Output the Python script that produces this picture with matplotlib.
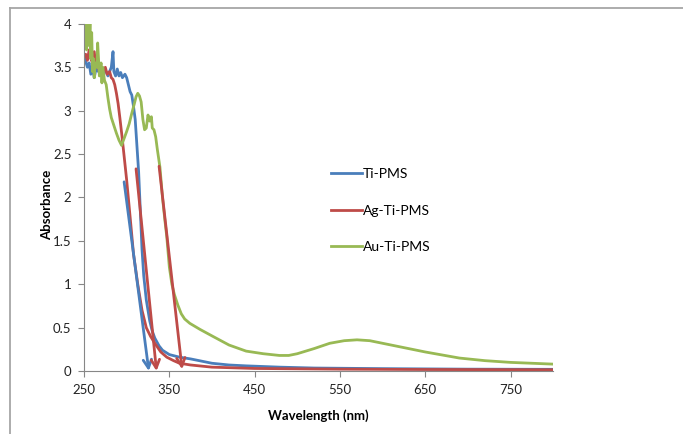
import matplotlib
matplotlib.use("Agg")
import matplotlib.pyplot as plt
from matplotlib.lines import Line2D

plt.rcParams['font.family'] = ['Lato', 'DejaVu Sans']

# ── data ────────────────────────────────────────────────────────────────────
ti_wl = [251, 254, 256, 258, 260, 262, 264, 267, 270, 272, 275, 278, 280, 282,
         284, 285, 287, 289, 291, 293, 295, 298, 300, 302, 304, 306, 308, 310,
         312, 314, 316, 318, 320, 323, 327, 330, 333, 338, 342, 350, 362, 375,
         385, 400, 420, 440, 480, 520, 600, 700, 800]
ti_abs = [3.6, 3.5, 3.55, 3.42, 3.5, 3.38, 3.48, 3.45, 3.5, 3.42, 3.47, 3.4, 3.45, 3.5,
          3.68, 3.45, 3.4, 3.48, 3.4, 3.44, 3.38, 3.42, 3.38, 3.3, 3.22, 3.18, 3.05, 2.9,
          2.6, 2.3, 1.85, 1.4, 1.1, 0.82, 0.58, 0.46, 0.38, 0.29, 0.24, 0.19, 0.16, 0.14,
          0.12, 0.09, 0.07, 0.06, 0.045, 0.035, 0.028, 0.022, 0.02]

ag_wl = [250, 252, 254, 256, 258, 260, 262, 264, 266, 268, 270, 272, 275, 277,
         280, 282, 284, 286, 288, 290, 292, 294, 296, 300, 304, 308, 313, 318,
         323, 328, 333, 340, 347, 355, 362, 375, 385, 400, 450, 550, 650, 800]
ag_abs = [3.62, 3.65, 3.58, 3.7, 3.6, 3.55, 3.68, 3.5, 3.55, 3.45, 3.5, 3.45, 3.5, 3.42,
          3.45, 3.38, 3.36, 3.3, 3.2, 3.08, 2.92, 2.75, 2.57, 2.2, 1.78, 1.35, 1.0, 0.7,
          0.5, 0.4, 0.32, 0.22, 0.16, 0.12, 0.09, 0.07, 0.06, 0.045, 0.03, 0.022, 0.018, 0.015]

au_wl = [250, 252, 253, 254, 256, 257, 258, 259, 260, 261, 262, 263, 265, 266,
         267, 268, 270, 271, 272, 274, 276, 278, 280, 282, 285, 288, 291, 294,
         297, 300, 303, 306, 309, 311, 313, 315, 317, 319, 321, 323, 325, 327,
         329, 330, 332, 334, 336, 339, 342, 345, 347, 350, 353, 356, 360, 364,
         368, 374, 386, 401, 420, 440, 460, 479, 490, 500, 520, 538, 555, 570,
         585, 600, 625, 650, 690, 720, 750, 800]
au_abs = [4.0, 4.0, 3.7, 4.0, 3.75, 4.0, 3.6, 3.9, 3.45, 3.6, 3.38, 3.55, 3.5, 3.78,
          3.6, 3.4, 3.55, 3.32, 3.5, 3.35, 3.3, 3.15, 3.02, 2.92, 2.83, 2.74, 2.66, 2.6,
          2.68, 2.76, 2.85, 2.97, 3.08, 3.16, 3.2, 3.17, 3.1, 2.9, 2.78, 2.8, 2.95, 2.88,
          2.93, 2.8, 2.78, 2.7, 2.55, 2.35, 2.0, 1.72, 1.55, 1.2, 1.0, 0.88, 0.76, 0.66,
          0.6, 0.55, 0.48, 0.4, 0.3, 0.23, 0.2, 0.18, 0.18, 0.2, 0.26, 0.32, 0.35, 0.36,
          0.35, 0.32, 0.27, 0.22, 0.15, 0.12, 0.1, 0.08]

# band-edge arrows: (start wl, start abs) -> (end wl, end abs)
arrow_starts_wl = [297, 311, 338]
arrow_starts_abs = [2.18, 2.33, 2.36]
arrow_ends_wl = [326, 335, 365]
arrow_ends_abs = [0.0, 0.0, 0.02]

x_ticks = [250, 350, 450, 550, 650, 750]
y_ticks = [0, 0.5, 1, 1.5, 2, 2.5, 3, 3.5, 4]

BLUE = "#4a7ebb"
RED = "#be4b48"
GREEN = "#98b954"
AXIS_GREY = "#878787"
arrow_colors = [BLUE, RED, RED]

fig = plt.figure(figsize=(6.83, 4.34), dpi=100)
ax = fig.add_axes([0.123, 0.145, 0.687, 0.80])

ax.plot(ti_wl, ti_abs, color=BLUE, lw=2, label="Ti-PMS")
ax.plot(ag_wl, ag_abs, color=RED, lw=2, label="Ag-Ti-PMS")
ax.plot(au_wl, au_abs, color=GREEN, lw=2, label="Au-Ti-PMS")

for x0, y0, x1, y1, c in zip(arrow_starts_wl, arrow_starts_abs,
                             arrow_ends_wl, arrow_ends_abs, arrow_colors):
    ax.annotate("", xy=(x1, y1), xytext=(x0, y0),
                arrowprops=dict(arrowstyle="->,head_length=0.6,head_width=0.3",
                                color=c, lw=2, shrinkA=0, shrinkB=0))

ax.set_xlim(250, 800)
ax.set_ylim(0, 4)
ax.set_xticks(x_ticks)
ax.set_yticks(y_ticks)
ax.set_yticklabels([f"{v:g}" for v in y_ticks])

for s in ("top", "right"):
    ax.spines[s].set_visible(False)
for s in ("left", "bottom"):
    ax.spines[s].set_color(AXIS_GREY)
    ax.spines[s].set_linewidth(0.8)
ax.tick_params(direction="out", length=4, width=0.8, color=AXIS_GREY,
               labelsize=9.5, labelcolor="#222222", pad=5)

ax.set_xlabel("Wavelength (nm)", fontsize=9.5, fontweight="bold", labelpad=10)
ax.set_ylabel("Absorbance", fontsize=9.5, fontweight="bold")
ax.yaxis.set_label_coords(-0.066, 0.48)

leg = ax.legend(loc="upper left", bbox_to_anchor=(0.515, 0.60), frameon=False,
                fontsize=10, handlelength=2.2, handletextpad=0.1,
                labelspacing=1.75, borderaxespad=0)

# outer frame (top and left edge of the chart area)
fig.add_artist(Line2D([10 / 683, 1], [1 - 7.5 / 434, 1 - 7.5 / 434],
                      transform=fig.transFigure, color="#a6a6a6", lw=1.3))
fig.add_artist(Line2D([10 / 683, 10 / 683], [0, 1 - 7.5 / 434],
                      transform=fig.transFigure, color="#a6a6a6", lw=1.3))

fig.savefig("out.png", dpi=100)
